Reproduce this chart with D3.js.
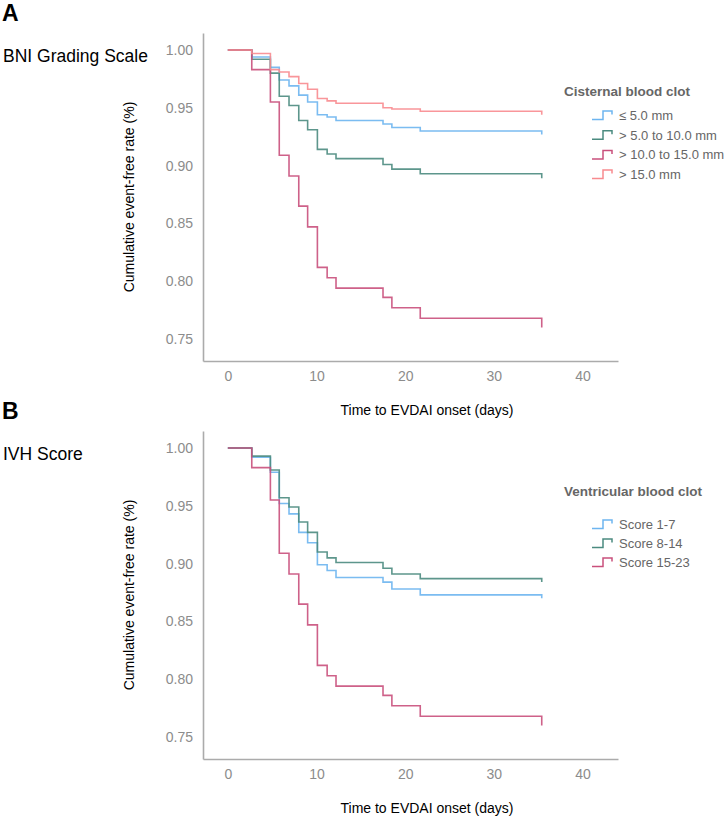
<!DOCTYPE html>
<html>
<head>
<meta charset="utf-8">
<script src="https://cdn.jsdelivr.net/npm/d3@7"></script>
<style>
  body { margin: 0; background: #fff; }
  text { font-family: "Liberation Sans", Arial, Helvetica, sans-serif; }
</style>
</head>
<body>
<div id="the_chart"></div>
<script>
// step times (days) shared by every curve
var times = [0, 2.7, 4.8, 5.8, 6.9, 8.0, 9.0, 10.1, 11.2, 12.2, 17.5, 18.5, 21.7, 35.4];

// panel A - cisternal blood clot
var cisternLabels = ["\u2264 5.0 mm", "> 5.0 to 10.0 mm", "> 10.0 to 15.0 mm", "> 15.0 mm"];
var cisternLe5   = [1.0, 0.994, 0.985, 0.974, 0.969, 0.961, 0.955, 0.944, 0.942, 0.939, 0.936, 0.933, 0.930, 0.927];
var cistern5to10 = [1.0, 0.992, 0.980, 0.960, 0.952, 0.939, 0.931, 0.914, 0.910, 0.906, 0.901, 0.897, 0.893, 0.889];
var cistern10to15 = [1.0, 0.983, 0.955, 0.909, 0.891, 0.865, 0.847, 0.812, 0.803, 0.794, 0.786, 0.777, 0.768, 0.760];
var cisternGt15  = [1.0, 0.997, 0.983, 0.981, 0.977, 0.971, 0.966, 0.958, 0.956, 0.954, 0.950, 0.949, 0.947, 0.944];

// panel B - ventricular blood clot
var ventLabels = ["Score 1-7", "Score 8-14", "Score 15-23"];
var vent1to7   = [1.0, 0.992, 0.979, 0.952, 0.943, 0.927, 0.918, 0.899, 0.894, 0.888, 0.884, 0.878, 0.873, 0.870];
var vent8to14  = [1.0, 0.993, 0.981, 0.957, 0.949, 0.936, 0.927, 0.910, 0.905, 0.901, 0.896, 0.891, 0.887, 0.884];
var vent15to23 = [1.0, 0.983, 0.955, 0.909, 0.891, 0.865, 0.847, 0.812, 0.803, 0.794, 0.786, 0.777, 0.768, 0.760];

var yTicks = [0.75, 0.80, 0.85, 0.90, 0.95, 1.00];
var xTicks = [0, 10, 20, 30, 40];

var blue = "#6db5f0", green = "#4b8b80", crimson = "#c9507c", salmon = "#f88b8f";

var w = 727, h = 821;
var svg = d3.select("#the_chart").append("svg")
  .attr("width", w)
  .attr("height", h);

var xscale = d3.scaleLinear().domain([-2.8, 44]).range([203, 618]);
var yscale = d3.scaleLinear().domain([0.731, 1.0147]).range([361, 33]);

// expand to step-after vertices
function stepPoints(pts) {
  var out = [];
  pts.forEach(function (p, i) {
    if (i > 0) out.push([p[0], pts[i - 1][1]]);
    out.push(p);
  });
  return out;
}

function gen_panel(dy, letter, name, legendTitle, labels, series, colors, legY) {
  var g = svg.append("g").attr("transform", "translate(0," + dy + ")");

  g.append("text")
    .attr("x", 2).attr("y", 21)
    .attr("font-size", 23).attr("font-weight", "bold")
    .text(letter);

  g.append("text")
    .attr("x", 3).attr("y", 62)
    .attr("font-size", 17.5)
    .text(name);

  var yaxis = d3.axisLeft(yscale).tickValues(yTicks).tickFormat(d3.format(".2f")).tickSize(0).tickPadding(10);
  var xaxis = d3.axisBottom(xscale).tickValues(xTicks).tickFormat(d3.format("d")).tickSize(0).tickPadding(10);

  var gy = g.append("g").attr("transform", "translate(203,0)").call(yaxis);
  var gx = g.append("g").attr("transform", "translate(0,361)").call(xaxis);
  [gy, gx].forEach(function (a) {
    a.select(".domain").attr("stroke", "#ababab").attr("stroke-width", 1.6);
    a.selectAll("text").attr("fill", "#8c8c8c").attr("font-size", 14)
      .attr("font-family", "'Liberation Sans', Arial, sans-serif");
  });

  g.append("text")
    .attr("transform", "translate(134,197) rotate(-90)")
    .attr("text-anchor", "middle")
    .attr("font-size", 14)
    .text("Cumulative event-free rate (%)");

  g.append("text")
    .attr("x", 427).attr("y", 415)
    .attr("text-anchor", "middle")
    .attr("font-size", 14)
    .text("Time to EVDAI onset (days)");

  var line = d3.line()
    .x(function (d) { return xscale(d[0]); })
    .y(function (d) { return yscale(d[1]); });

  series.forEach(function (vals, i) {
    var pts = times.map(function (t, j) { return [t, vals[j]]; });
    g.append("path")
      .datum(stepPoints(pts))
      .attr("fill", "none")
      .attr("stroke", colors[i])
      .attr("stroke-width", 1.6)
      .attr("stroke-opacity", 0.9)
      .attr("d", line);
  });

  // legend
  g.append("text")
    .attr("x", 564).attr("y", legY[0] + 5)
    .attr("font-size", 13.5).attr("font-weight", "bold")
    .attr("fill", "#666")
    .text(legendTitle);

  labels.forEach(function (lab, i) {
    var cy = legY[1] + i * legY[2];
    g.append("path")
      .attr("fill", "none")
      .attr("stroke", colors[i])
      .attr("stroke-width", 1.5)
      .attr("d", "M592," + (cy + 4.5) + "H603V" + (cy - 4) + "H612V" + (cy - 0.5));
    g.append("text")
      .attr("x", 619).attr("y", cy + 5)
      .attr("font-size", 13)
      .attr("fill", "#666")
      .text(lab);
  });
}

gen_panel(0, "A", "BNI Grading Scale", "Cisternal blood clot", cisternLabels,
  [cisternLe5, cistern5to10, cistern10to15, cisternGt15], [blue, green, crimson, salmon], [90.5, 115, 19.7]);

gen_panel(398, "B", "IVH Score", "Ventricular blood clot", ventLabels,
  [vent1to7, vent8to14, vent15to23], [blue, green, crimson], [92.7, 126, 19]);
</script>
</body>
</html>
